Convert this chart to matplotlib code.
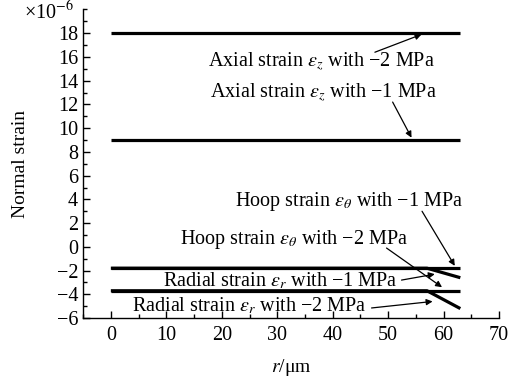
import matplotlib
matplotlib.use("Agg")
import matplotlib.pyplot as plt
from matplotlib.ticker import MultipleLocator

plt.rcParams['font.family'] = ['Liberation Serif', 'DejaVu Serif']
plt.rcParams['mathtext.fontset'] = 'stix'

# data
r_flat = [0, 63]
axial_1 = [9.0, 9.0]
axial_2 = [18.0, 18.0]
hoop_1 = [-1.8, -1.8]
hoop_2 = [-3.7, -3.7]
r_rad = [0, 57, 63]
radial_1 = [-1.8, -1.8, -2.6]
radial_2 = [-3.7, -3.7, -5.2]

labels = [
    "Axial strain $\\varepsilon_z$ with \u22122 MPa",
    "Axial strain $\\varepsilon_z$ with \u22121 MPa",
    "Hoop strain $\\varepsilon_\\theta$ with \u22121 MPa",
    "Hoop strain $\\varepsilon_\\theta$ with \u22122 MPa",
    "Radial strain $\\varepsilon_r$ with \u22121 MPa",
    "Radial strain $\\varepsilon_r$ with \u22122 MPa",
]
text_xy = [(38, 15.6), (38.3, 13.0), (43, 3.8), (33, 0.6), (30.5, -2.9), (25, -4.95)]
arrow_tail = [(47.6, 16.4), (50.8, 12.2), (56.1, 3.0), (49.7, -0.1), (52.4, -2.8), (47, -5.15)]
arrow_head = [(56.0, 17.9), (54.2, 9.2), (62.0, -1.6), (59.7, -3.4), (58.4, -2.3), (58, -4.6)]

fig = plt.figure(figsize=(5.13, 3.8), dpi=100)
ax = fig.add_axes([0.162, 0.163, 0.811, 0.812])

lw = 2.3
for x, y in [(r_flat, axial_2), (r_flat, axial_1), (r_flat, hoop_1), (r_flat, hoop_2),
             (r_rad, radial_1), (r_rad, radial_2)]:
    ax.plot(x, y, color='black', lw=lw, solid_capstyle='butt')

for lab, (tx, ty) in zip(labels, text_xy):
    ax.text(tx, ty, lab, ha='center', va='center', fontsize=14.5)

for (tx, ty), (hx, hy) in zip(arrow_tail, arrow_head):
    ax.annotate("", xy=(hx, hy), xytext=(tx, ty),
                arrowprops=dict(arrowstyle='-|>', color='black', lw=0.9,
                                mutation_scale=9, shrinkA=0, shrinkB=0))

ax.set_xlim(-5, 70)
ax.set_ylim(-6, 20)
ax.set_xticks(range(0, 71, 10))
ax.set_yticks(range(-6, 19, 2))
ax.set_yticklabels([str(v).replace('-', '\u2212') for v in range(-6, 19, 2)])
ax.xaxis.set_minor_locator(MultipleLocator(5))
ax.yaxis.set_minor_locator(MultipleLocator(1))
ax.tick_params(direction='in', which='both', labelsize=14.5, width=1, color='black')
ax.tick_params(axis='x', pad=6)
ax.tick_params(which='major', length=5)
ax.tick_params(which='minor', length=3)
ax.spines['top'].set_visible(False)
ax.spines['right'].set_visible(False)
for s in ['left', 'bottom']:
    ax.spines[s].set_linewidth(1.0)

ax.set_ylabel("Normal strain", fontsize=14, labelpad=20)
ax.set_xlabel("$r$/\u03bcm", fontsize=14, labelpad=8)
fig.text(0.095, 0.968, "\u00d710$^{\u22126}$", fontsize=14.5, ha='center', va='center')

fig.savefig("out.png", dpi=100)
